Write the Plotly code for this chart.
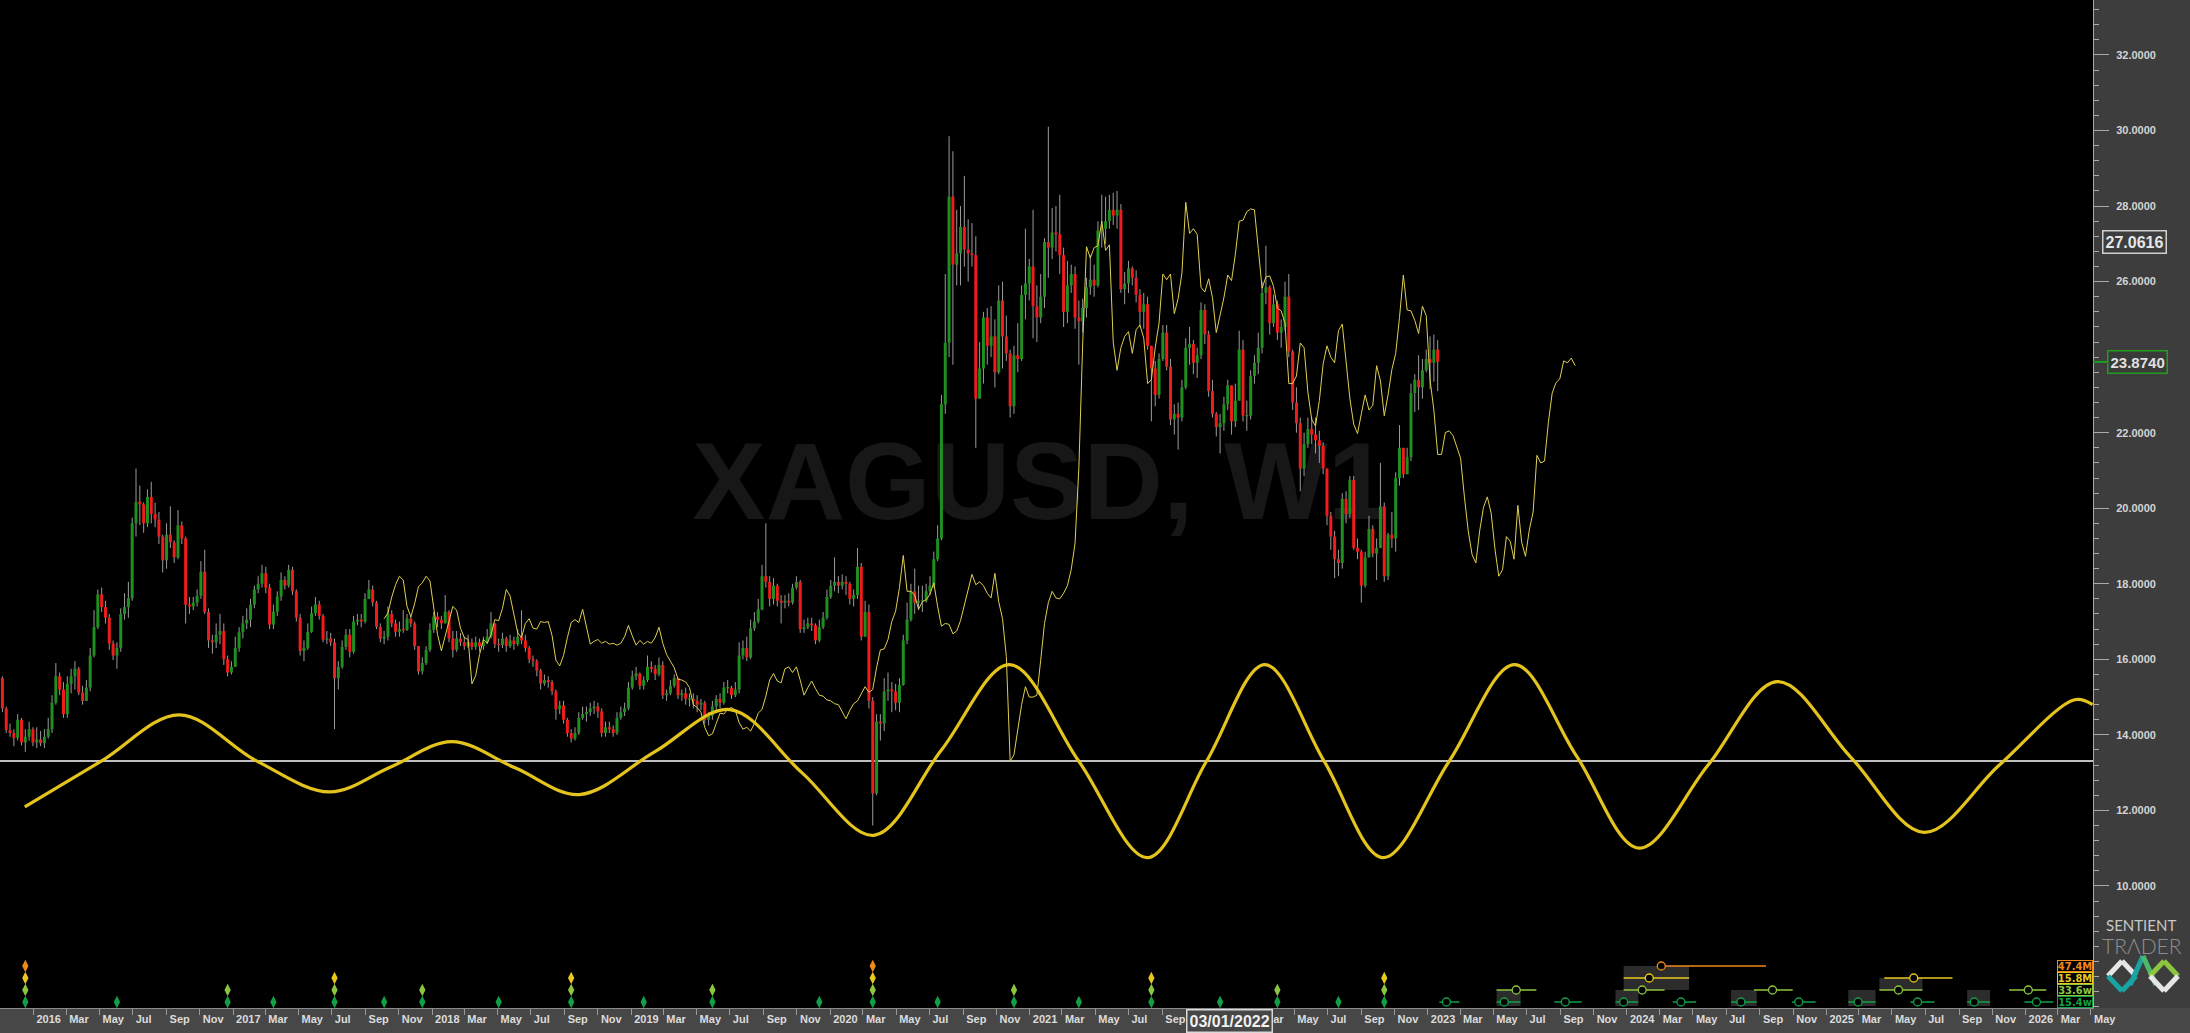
import plotly.graph_objects as go
import pandas as pd

# ======================= DATA =======================
# Weekly XAGUSD candles (one bar per week, first bar in the week of 2 Nov 2015)
FIRST_WEEK = "2015-11-05"
first_open = 15.50
closes = [
    14.70, 14.13, 14.05, 13.92, 14.40, 13.80, 13.95, 14.15, 13.80, 13.88,
    13.78, 13.95, 14.15, 14.85, 15.55, 15.20, 14.55, 15.35, 15.55, 15.75,
    15.12, 14.90, 15.25, 16.10, 16.85, 17.72, 17.38, 17.10, 16.42, 16.10,
    16.30, 17.20, 17.38, 17.62, 19.60, 20.17, 20.10, 19.60, 20.30, 19.85,
    19.70, 19.25, 18.62, 19.30, 19.10, 18.70, 19.55, 19.20, 17.45, 17.40,
    17.50, 17.68, 18.32, 17.25, 16.50, 16.45, 16.65, 16.75, 16.00, 15.65,
    15.80, 16.30, 16.72, 16.95, 17.05, 17.45, 17.85, 18.00, 18.28, 17.90,
    16.92, 17.26, 17.66, 18.10, 17.95, 18.37, 17.80, 17.10, 16.22, 16.30,
    16.73, 17.22, 17.45, 17.15, 16.52, 16.55, 16.45, 15.50, 15.80, 16.33,
    16.65, 16.20, 17.00, 17.05, 17.00, 17.60, 17.85, 17.50, 16.86, 16.55,
    16.60, 17.20, 16.95, 16.73, 16.80, 16.78, 17.08, 16.95, 16.35, 15.68,
    15.90, 16.25, 16.78, 17.13, 17.05, 16.95, 17.26, 16.55, 16.25, 16.55,
    16.45, 16.35, 16.45, 16.33, 16.45, 16.35, 16.45, 16.60, 16.95, 16.40,
    16.38, 16.55, 16.35, 16.50, 16.40, 16.60, 16.50, 16.30, 16.00, 15.95,
    15.70, 15.36, 15.45, 15.40, 15.15, 14.68, 14.78, 14.40, 14.05, 13.90,
    14.05, 14.45, 14.55, 14.60, 14.70, 14.75, 14.62, 14.05, 14.20, 14.15,
    14.05, 14.45, 14.60, 14.70, 15.25, 15.55, 15.62, 15.30, 15.45, 15.80,
    15.75, 15.60, 15.85, 15.05, 15.10, 15.30, 15.50, 15.05, 15.10, 14.95,
    14.95, 14.90, 14.80, 14.85, 14.40, 14.50, 14.75, 14.95, 14.85, 15.25,
    15.25, 15.05, 15.20, 16.10, 16.30, 16.05, 16.82, 17.00, 17.32, 18.20,
    18.05, 17.60, 17.95, 17.55, 17.50, 17.55, 17.50, 17.90, 18.05, 16.80,
    16.85, 16.95, 16.90, 16.50, 16.85, 17.10, 17.65, 17.95, 18.05, 17.95,
    18.05, 18.00, 17.60, 17.70, 18.45, 16.60, 17.25, 14.90, 12.45, 14.35,
    14.30, 15.15, 15.20, 15.15, 14.85, 15.32, 16.50, 17.05, 17.80, 17.50,
    17.55, 17.55, 17.80, 17.95, 18.65, 19.20, 22.75, 24.38, 28.25, 26.45,
    26.75, 27.45, 26.85, 26.75, 26.70, 22.90, 23.70, 25.05, 24.30, 24.55,
    23.60, 25.50, 24.55, 24.10, 22.70, 24.05, 23.95, 25.65, 25.95, 26.40,
    25.35, 25.05, 25.60, 27.05, 26.90, 27.30, 27.25, 26.70, 25.20, 25.90,
    26.20, 25.05, 24.95, 25.30, 25.85, 26.05, 25.90, 27.35, 27.40, 27.60,
    27.90, 27.75, 27.90, 25.80, 25.95, 26.35, 26.10, 25.65, 25.20, 25.40,
    24.30, 23.70, 23.00, 23.95, 24.65, 23.75, 22.35, 22.50, 22.40, 23.20,
    24.25, 24.35, 23.85, 24.05, 25.25, 24.60, 23.10, 22.50, 22.15, 22.25,
    22.75, 23.25, 22.30, 22.85, 24.20, 22.45, 22.45, 23.50, 23.85, 24.25,
    25.70, 25.85, 24.90, 25.40, 24.65, 24.80, 25.60, 24.15, 22.80, 22.25,
    21.05, 21.70, 22.10, 21.95, 21.80, 21.65, 21.05, 19.80, 19.25, 18.65,
    18.55, 20.25, 19.85, 20.75, 18.95, 18.85, 17.95, 18.70, 19.45, 18.80,
    18.95, 20.05, 18.20, 19.30, 19.20, 20.80, 21.60, 20.90, 21.35, 23.05,
    23.40, 23.20, 23.65, 23.95, 23.85, 24.20, 23.88,
]
highs = [
    15.55, 14.75, 14.30, 14.15, 14.55, 14.45, 14.15, 14.35, 14.20, 14.20,
    14.10, 14.15, 14.45, 15.05, 15.90, 15.65, 15.40, 15.55, 15.75, 15.95,
    15.80, 15.30, 15.45, 16.30, 17.30, 17.85, 17.90, 17.55, 17.20, 16.50,
    16.45, 17.35, 17.75, 18.05, 19.75, 21.05, 20.60, 20.15, 20.50, 20.70,
    20.15, 19.90, 19.30, 19.60, 20.05, 19.15, 19.95, 19.65, 19.25, 17.65,
    17.65, 17.85, 18.60, 18.90, 17.35, 16.65, 16.95, 17.20, 16.95, 16.10,
    15.95, 16.60, 16.85, 17.15, 17.35, 17.60, 17.95, 18.20, 18.50, 18.45,
    18.00, 17.45, 17.80, 18.30, 18.20, 18.50, 18.45, 17.85, 17.20, 16.50,
    16.95, 17.40, 17.65, 17.55, 17.20, 16.75, 16.70, 16.55, 15.95, 16.50,
    16.80, 16.80, 17.15, 17.20, 17.20, 17.75, 18.10, 17.95, 17.55, 16.95,
    16.75, 17.40, 17.30, 17.05, 17.00, 17.30, 17.20, 17.15, 17.00, 16.35,
    16.05, 16.35, 16.95, 17.25, 17.25, 17.15, 17.70, 17.30, 16.75, 16.75,
    16.70, 16.60, 16.65, 16.55, 16.60, 16.55, 16.60, 16.80, 17.25, 16.95,
    16.55, 16.70, 16.60, 16.65, 16.60, 16.80, 17.30, 16.65, 16.35, 16.10,
    16.00, 15.75, 15.60, 15.55, 15.45, 15.20, 14.90, 14.90, 14.45, 14.15,
    14.20, 14.60, 14.75, 14.75, 14.85, 14.90, 14.85, 14.70, 14.35, 14.35,
    14.25, 14.60, 14.75, 14.85, 15.40, 15.70, 15.80, 15.65, 15.55, 16.10,
    15.95, 15.85, 16.05, 15.95, 15.20, 15.45, 15.60, 15.50, 15.20, 15.25,
    15.10, 15.10, 15.05, 14.95, 14.90, 14.60, 14.90, 15.05, 15.10, 15.40,
    15.45, 15.30, 15.40, 16.45, 16.50, 16.60, 17.05, 17.25, 17.60, 18.50,
    19.60, 18.20, 18.15, 18.00, 17.70, 17.70, 17.75, 18.00, 18.20, 18.10,
    17.05, 17.10, 17.10, 16.95, 17.05, 17.25, 17.85, 18.10, 18.70, 18.20,
    18.25, 18.20, 18.05, 17.85, 18.95, 18.55, 17.55, 17.45, 15.00, 14.55,
    14.55, 15.50, 15.65, 15.40, 15.35, 15.50, 16.65, 17.50, 18.00, 18.40,
    17.95, 17.95, 18.00, 18.20, 18.85, 19.55, 23.00, 26.20, 29.85, 29.45,
    27.90, 28.00, 28.80, 27.65, 27.55, 27.20, 24.40, 25.20, 25.30, 25.35,
    25.00, 25.90, 26.00, 25.10, 24.20, 24.30, 24.90, 25.90, 27.40, 26.60,
    27.90, 25.90, 26.20, 27.15, 30.10, 27.95, 28.00, 28.30, 26.90, 26.55,
    26.45, 26.40, 25.50, 25.55, 26.10, 26.70, 26.45, 27.60, 28.30, 28.25,
    28.30, 28.35, 28.40, 28.05, 26.25, 26.55, 26.40, 26.30, 25.80, 25.70,
    25.60, 24.30, 23.90, 24.10, 24.85, 24.85, 23.95, 22.75, 22.80, 23.40,
    24.50, 24.80, 24.45, 24.25, 25.45, 25.40, 24.70, 23.40, 22.55, 22.50,
    22.95, 23.40, 23.10, 23.30, 24.70, 24.45, 22.85, 23.65, 24.05, 24.65,
    26.00, 26.95, 25.90, 25.65, 25.50, 25.00, 26.00, 26.20, 24.20, 23.20,
    22.40, 22.00, 22.40, 22.40, 22.40, 22.05, 21.75, 21.00, 19.90, 19.40,
    18.90, 20.40, 20.45, 20.85, 20.85, 19.20, 18.90, 18.85, 19.80, 19.55,
    19.20, 21.20, 20.15, 19.35, 19.90, 20.95, 22.20, 21.60, 21.60, 23.30,
    23.55, 24.05, 23.95, 24.20, 24.55, 24.60, 24.45,
]
lows = [
    14.60, 14.05, 13.95, 13.70, 13.85, 13.72, 13.55, 13.85, 13.70, 13.65,
    13.70, 13.65, 13.90, 14.05, 14.80, 15.05, 14.45, 14.45, 15.10, 15.20,
    15.05, 14.80, 14.90, 15.15, 16.05, 16.80, 17.25, 16.95, 16.25, 15.98,
    15.75, 16.20, 17.05, 17.10, 17.55, 19.25, 19.55, 19.35, 19.50, 19.60,
    19.50, 19.05, 18.30, 18.40, 18.95, 18.55, 18.65, 19.05, 16.95, 17.20,
    17.30, 17.40, 17.60, 17.20, 16.30, 16.15, 16.30, 16.40, 15.85, 15.55,
    15.60, 15.85, 16.20, 16.55, 16.80, 16.85, 17.35, 17.75, 17.90, 17.75,
    16.80, 16.80, 17.15, 17.55, 17.85, 17.90, 17.70, 17.00, 16.10, 15.95,
    16.25, 16.70, 17.15, 17.05, 16.45, 16.40, 16.35, 14.15, 15.20, 15.75,
    16.25, 16.05, 16.15, 16.90, 16.85, 16.95, 17.60, 17.40, 16.80, 16.45,
    16.40, 16.50, 16.85, 16.60, 16.60, 16.70, 16.75, 16.85, 16.25, 15.60,
    15.60, 15.85, 16.20, 16.70, 16.85, 16.80, 16.95, 16.45, 16.05, 16.20,
    16.35, 16.25, 16.30, 16.25, 16.25, 16.20, 16.25, 16.40, 16.55, 16.30,
    16.20, 16.30, 16.20, 16.30, 16.25, 16.35, 16.40, 16.20, 15.90, 15.80,
    15.55, 15.20, 15.30, 15.25, 15.05, 14.40, 14.55, 14.30, 13.95, 13.80,
    13.85, 14.00, 14.40, 14.35, 14.50, 14.55, 14.45, 13.95, 13.95, 14.05,
    13.95, 14.00, 14.40, 14.50, 14.65, 15.20, 15.45, 15.20, 15.20, 15.40,
    15.65, 15.45, 15.55, 14.95, 14.90, 15.05, 15.25, 14.95, 14.90, 14.80,
    14.75, 14.70, 14.60, 14.65, 14.30, 14.25, 14.40, 14.60, 14.70, 14.80,
    15.10, 14.95, 15.00, 15.10, 16.00, 15.95, 16.00, 16.75, 16.95, 17.30,
    17.90, 17.40, 17.45, 17.40, 16.95, 17.35, 17.40, 17.45, 17.85, 16.70,
    16.70, 16.80, 16.75, 16.40, 16.45, 16.80, 17.05, 17.60, 17.80, 17.75,
    17.85, 17.70, 17.45, 17.40, 17.60, 16.50, 16.60, 14.70, 11.60, 12.40,
    13.85, 14.10, 14.90, 14.60, 14.65, 14.60, 15.30, 16.40, 17.00, 17.20,
    17.30, 17.25, 17.50, 17.70, 17.90, 18.60, 19.15, 22.50, 24.00, 23.80,
    25.90, 25.90, 26.40, 26.00, 26.40, 21.60, 22.90, 23.30, 23.80, 24.00,
    23.20, 23.55, 23.70, 23.90, 22.40, 22.50, 23.60, 23.90, 25.00, 25.50,
    24.50, 24.40, 24.90, 25.30, 26.10, 26.60, 26.80, 26.20, 24.80, 24.90,
    25.70, 24.75, 23.80, 24.65, 25.05, 25.65, 25.60, 25.85, 26.90, 27.00,
    27.40, 27.50, 27.40, 25.70, 25.40, 25.70, 25.90, 25.45, 24.80, 24.75,
    24.20, 22.30, 22.70, 22.90, 23.90, 23.65, 22.20, 21.95, 21.55, 22.30,
    23.15, 23.80, 23.55, 23.45, 23.95, 24.35, 22.95, 22.40, 21.90, 21.45,
    22.05, 22.60, 21.95, 22.15, 22.85, 22.30, 22.05, 22.35, 23.30, 23.55,
    24.10, 25.40, 24.60, 24.80, 24.45, 24.25, 24.70, 24.00, 22.60, 22.00,
    20.45, 20.85, 21.60, 21.70, 21.45, 21.20, 20.90, 19.55, 18.90, 18.15,
    18.20, 18.40, 19.60, 19.75, 18.90, 18.65, 17.50, 17.90, 18.75, 18.70,
    18.10, 19.20, 18.05, 18.10, 18.95, 18.85, 20.60, 20.80, 20.90, 21.25,
    22.55, 22.60, 22.90, 23.60, 23.15, 23.35, 23.10,
]

# FLD: median price displaced forward by 36 weeks, drawn from bar 64 onwards
FLD_SHIFT_WEEKS = 36
FLD_FIRST_BAR = 64

# Composite cycle model (thick yellow wave): read points (peaks, crossings, troughs)
composite_dates = [
    "2015-12-16", "2016-05-05", "2016-09-24", "2017-02-13", "2017-06-27", "2017-10-17",
    "2018-02-06", "2018-06-03", "2018-09-28", "2019-02-13", "2019-07-01", "2019-11-10",
    "2020-03-21", "2020-07-23", "2020-11-25", "2021-04-01", "2021-08-05", "2021-11-21",
    "2022-03-08", "2022-06-25", "2022-10-11", "2023-02-09", "2023-06-09", "2023-10-01",
    "2024-01-23", "2024-05-29", "2024-10-03", "2025-02-15", "2025-06-29", "2025-11-14",
    "2026-04-01", "2026-05-04",
]
composite_values = [
    12.09, 13.31, 14.53, 13.31, 12.49, 13.15,
    13.82, 13.12, 12.42, 13.55, 14.67, 13.00,
    11.34, 13.60, 15.86, 13.30, 10.75, 13.30,
    15.86, 13.30, 10.75, 13.30, 15.86, 13.43,
    11.00, 13.20, 15.41, 13.40, 11.42, 13.20,
    14.93, 14.80,
]
reference_level = 13.31

# Cycle troughs found (bar index of each trough), per cycle
cycle_names = ["47.4M", "15.8M", "33.6w", "15.4w"]
troughs = {
    "47.4M": [6, 228],
    "15.8M": [6, 87, 149, 228, 301, 362],
    "33.6w": [6, 59, 87, 110, 149, 186, 228, 265, 301, 334, 362],
    "15.4w": [6, 30, 59, 71, 87, 100, 110, 130, 149, 168, 186, 214, 228, 245,
              265, 282, 301, 319, 334, 350, 362],
}
# Projected troughs: (expected date, window start, window end)
projections = {
    "47.4M": [("2024-03-04", "2024-03-04", "2024-09-12")],
    "15.8M": [("2024-02-11", "2023-12-26", "2024-04-24"),
              ("2025-06-10", "2025-04-17", "2025-08-20")],
    "33.6w": [("2023-06-12", "2023-05-07", "2023-07-19"),
              ("2024-01-29", "2023-12-26", "2024-03-10"),
              ("2024-09-24", "2024-08-21", "2024-10-31"),
              ("2025-05-13", "2025-04-08", "2025-06-26"),
              ("2026-01-06", "2025-12-02", "2026-02-08")],
    "15.4w": [("2023-02-04", "2023-01-22", "2023-02-28"),
              ("2023-05-21", "2023-05-07", "2023-06-20"),
              ("2023-09-10", "2023-08-21", "2023-10-10"),
              ("2023-12-26", "2023-12-11", "2024-01-22"),
              ("2024-04-09", "2024-03-25", "2024-05-07"),
              ("2024-07-28", "2024-07-10", "2024-08-26"),
              ("2024-11-11", "2024-10-30", "2024-12-12"),
              ("2025-02-28", "2025-02-10", "2025-04-01"),
              ("2025-06-17", "2025-06-04", "2025-07-18"),
              ("2025-09-29", "2025-09-16", "2025-10-28"),
              ("2026-01-21", "2025-12-30", "2026-02-21")],
}
# grey time-window boxes: (start, end, top row cycle, bottom row cycle)
windows = [
    ("2023-05-07", "2023-06-20", "33.6w", None),
    ("2023-12-11", "2024-01-22", "33.6w", None),
    ("2023-12-26", "2024-04-24", "47.4M", "33.6w"),
    ("2024-07-10", "2024-08-26", "33.6w", None),
    ("2025-02-10", "2025-04-01", "33.6w", None),
    ("2025-04-08", "2025-06-26", "15.8M", "33.6w"),
    ("2025-09-16", "2025-10-28", "33.6w", None),
]

last_price = 23.8740
cursor_price = 27.0616
cursor_date = "2022-01-03"
cursor_label = "03/01/2022"
watermark = "XAGUSD, W1"

# the 24.0000 label is hidden behind the last-price box in the reference
y_tick_values = [10, 12, 14, 16, 18, 20, 22, 26, 28, 30, 32]
# month labels hidden behind the cursor-date box in the reference
hidden_x_labels = ["2021-11-01", "2022-01-01"]

# ======================= GEOMETRY / STYLE =======================
W, H = 2190, 1033
PLOT_W, PLOT_H = 2093, 1008
Y_TOP, Y_BOTTOM = 33.456, 6.768
X_RANGE = ["2015-10-31 14:00", "2026-05-04 17:00"]

def yv(py):
    return Y_TOP - (Y_TOP - Y_BOTTOM) * py / PLOT_H

def pxx(x):
    return x / PLOT_W

def pxy(y):
    return 1 - y / PLOT_H

ROW_PX = {"47.4M": 966, "15.8M": 978, "33.6w": 990, "15.4w": 1002}
COL = {"47.4M": "#f0881c", "15.8M": "#e8c81e", "33.6w": "#8cc63e", "15.4w": "#12a046"}
GREEN, RED, WICK = "#1f8f1f", "#f01c1c", "#9a9a9a"
FLD_COL, COMP_COL = "#e0cf50", "#e4c41c"

n = len(closes)
assert len(highs) == n and len(lows) == n
dates = pd.date_range(FIRST_WEEK, periods=n + FLD_SHIFT_WEEKS, freq="7D")
ds = [d.strftime("%Y-%m-%d %H:%M") for d in dates]
opens = [first_open] + closes[:-1]
hi = [max(h, o, c) for h, o, c in zip(highs, opens, closes)]
lo = [min(l, o, c) for l, o, c in zip(lows, opens, closes)]

fig = go.Figure()

# watermark (drawn first so candles sit on top)
fig.add_trace(go.Scatter(
    x=["2021-01-21"], y=[20.45], mode="text", text=[watermark],
    textfont=dict(size=110, color="#171717", family="Liberation Sans, Arial", weight="bold"),
    textposition="middle center", hoverinfo="skip", showlegend=False))

# wicks
wx, wy = [], []
for d, h, l in zip(ds[:n], hi, lo):
    wx += [d, d, None]
    wy += [l, h, None]
fig.add_trace(go.Scatter(x=wx, y=wy, mode="lines", line=dict(color=WICK, width=1),
                         hoverinfo="skip", showlegend=False))

# bodies
MIN_BODY = 0.035
gx, gy, rx, ry = [], [], [], []
for d, o, c in zip(ds[:n], opens, closes):
    a, b = min(o, c), max(o, c)
    if b - a < MIN_BODY:
        m = (a + b) / 2
        a, b = m - MIN_BODY / 2, m + MIN_BODY / 2
    if c >= o:
        gx += [d, d, None]; gy += [a, b, None]
    else:
        rx += [d, d, None]; ry += [a, b, None]
fig.add_trace(go.Scatter(x=gx, y=gy, mode="lines", line=dict(color=GREEN, width=3),
                         hoverinfo="skip", showlegend=False))
fig.add_trace(go.Scatter(x=rx, y=ry, mode="lines", line=dict(color=RED, width=3),
                         hoverinfo="skip", showlegend=False))

# FLD
fld_x = ds[FLD_FIRST_BAR + FLD_SHIFT_WEEKS: n + FLD_SHIFT_WEEKS]
fld_y = [(hi[i] + lo[i]) / 2 for i in range(FLD_FIRST_BAR, n)]
fig.add_trace(go.Scatter(x=fld_x, y=fld_y, mode="lines", line=dict(color=FLD_COL, width=1),
                         hoverinfo="skip", showlegend=False))

# composite wave
fig.add_trace(go.Scatter(x=composite_dates, y=composite_values, mode="lines",
                         line=dict(color=COMP_COL, width=3.2, shape="spline", smoothing=1.0),
                         hoverinfo="skip", showlegend=False))

# trough diamonds
for name in cycle_names:
    idx = troughs[name]
    fig.add_trace(go.Scatter(
        x=[ds[i] for i in idx], y=[yv(ROW_PX[name])] * len(idx), mode="markers",
        marker=dict(symbol="diamond-tall", size=9, color=COL[name], line=dict(width=0)),
        hoverinfo="skip", showlegend=False))

# projected troughs: window lines + circles
for name in cycle_names:
    lx, ly = [], []
    for centre, s, e in projections[name]:
        lx += [s, e, None]
        ly += [yv(ROW_PX[name])] * 2 + [None]
    fig.add_trace(go.Scatter(x=lx, y=ly, mode="lines", line=dict(color=COL[name], width=1.5),
                             hoverinfo="skip", showlegend=False))
    fig.add_trace(go.Scatter(
        x=[p[0] for p in projections[name]], y=[yv(ROW_PX[name])] * len(projections[name]),
        mode="markers",
        marker=dict(symbol="circle", size=8, color="#000000", line=dict(color=COL[name], width=1.3)),
        hoverinfo="skip", showlegend=False))

shapes = []
# grey time windows
for s, e, top, bottom in windows:
    y0 = yv(ROW_PX[top])
    y1 = yv(ROW_PX[bottom]) if bottom else yv(1006)
    shapes.append(dict(type="rect", xref="x", yref="y", x0=s, x1=e, y0=y1, y1=y0,
                       fillcolor="#2c2c2c", line=dict(width=0), layer="below"))
# white reference line
shapes.append(dict(type="line", xref="paper", yref="y", x0=0, x1=1,
                   y0=reference_level, y1=reference_level,
                   line=dict(color="#ffffff", width=1.5), layer="below"))
# bottom axis band
shapes.append(dict(type="rect", xref="paper", yref="paper", x0=0, x1=W / PLOT_W,
                   y0=pxy(H), y1=0, fillcolor="#474747", line=dict(width=0), layer="below"))
# green price tick
shapes.append(dict(type="line", xref="paper", yref="y", x0=1.0, x1=pxx(2110),
                   y0=last_price, y1=last_price, line=dict(color="#1e9e1e", width=2)))

# logo (Sentient Trader mark)
def seg(x0, y0, x1, y1, c, w=5):
    shapes.append(dict(type="line", xref="paper", yref="paper",
                       x0=pxx(x0), y0=pxy(y0), x1=pxx(x1), y1=pxy(y1),
                       line=dict(color=c, width=w)))
WHITE_L, TEAL, LGREEN = "#e6e6e6", "#1aa3a3", "#8cc63e"
seg(2108, 976, 2122, 961, WHITE_L)
seg(2122, 961, 2136, 976, WHITE_L)
seg(2108, 976, 2122, 991, TEAL)
seg(2122, 991, 2136, 976, TEAL)
seg(2130, 985, 2143, 956, TEAL)
seg(2143, 956, 2156, 985, "#4cb86a")
seg(2150, 976, 2164, 961, LGREEN)
seg(2164, 961, 2178, 976, LGREEN)
seg(2178, 976, 2164, 991, WHITE_L)
seg(2164, 991, 2150, 976, WHITE_L)

annotations = []
# cycle length labels
for name in cycle_names:
    annotations.append(dict(
        xref="paper", yref="y", x=pxx(2075), y=yv(ROW_PX[name]), xanchor="center", yanchor="middle",
        text=name, showarrow=False,
        font=dict(size=11, color=COL[name], family="Liberation Sans Narrow, DejaVu Sans Condensed, Arial",
                  weight="bold"),
        bgcolor="#000000", bordercolor=COL[name], borderwidth=1, borderpad=0, width=34, height=10))
# price labels on the axis
annotations.append(dict(
    xref="paper", yref="y", x=pxx(2134.5), y=cursor_price, xanchor="center", yanchor="middle",
    text=f"{cursor_price:.4f}", showarrow=False,
    font=dict(size=16, color="#e6e6e6", family="Liberation Sans, Arial", weight="bold"),
    bgcolor="#3d3d3d", bordercolor="#d0d0d0", borderwidth=1.5, borderpad=2))
annotations.append(dict(
    xref="paper", yref="y", x=pxx(2137.5), y=last_price, xanchor="center", yanchor="middle",
    text=f"{last_price:.4f}", showarrow=False,
    font=dict(size=15, color="#e0e0e0", family="Liberation Sans, Arial", weight="bold"),
    bgcolor="#3a3a3a", bordercolor="#1e9e1e", borderwidth=1.5, borderpad=2))
# cursor date
annotations.append(dict(
    xref="x", yref="paper", x=cursor_date, y=pxy(1020.5), xanchor="center", yanchor="middle",
    text=cursor_label, showarrow=False,
    font=dict(size=16, color="#f0f0f0", family="Liberation Sans, Arial", weight="bold"),
    bgcolor="#474747", bordercolor="#d8d8d8", borderwidth=1.5, borderpad=2))
# brand text
annotations.append(dict(
    xref="paper", yref="paper", x=pxx(2141), y=pxy(925), xanchor="center", yanchor="middle",
    text="SENTIENT", showarrow=False,
    font=dict(size=15, color="#c8c8c8", family="Lato, Roboto, Arial")))
annotations.append(dict(
    xref="paper", yref="paper", x=pxx(2142), y=pxy(945), xanchor="center", yanchor="middle",
    text="TRΛDER", showarrow=False,
    font=dict(size=21, color="#8e8e8e", family="Lato, Roboto, Arial", weight=300)))

tick_dates = pd.date_range("2016-01-01", "2026-05-01", freq="2MS")
tick_text = ["" if d.strftime("%Y-%m-%d") in hidden_x_labels
             else (str(d.year) if d.month == 1 else d.strftime("%b")) for d in tick_dates]
minor_y = [round(0.4 * k, 1) for k in range(17, 84)]

fig.update_layout(
    width=W, height=H, autosize=False,
    margin=dict(l=0, r=W - PLOT_W, t=0, b=H - PLOT_H, pad=0),
    paper_bgcolor="#3d3d3d", plot_bgcolor="#000000",
    showlegend=False, hovermode=False,
    shapes=shapes, annotations=annotations,
    xaxis=dict(
        type="date", range=X_RANGE, showgrid=False, zeroline=False,
        showline=True, linecolor="#8a8a8a", linewidth=1,
        tickmode="array", tickvals=[d.strftime("%Y-%m-%d") for d in tick_dates], ticktext=tick_text,
        ticks="outside", ticklen=6, tickcolor="#9a9a9a", tickwidth=1,
        ticklabelposition="outside right", ticklabelshift=2, ticklabelstandoff=1,
        tickfont=dict(size=11, color="#dcdcdc", family="Liberation Sans, Arial", weight="bold"),
        fixedrange=True,
    ),
    yaxis=dict(
        side="right", range=[Y_BOTTOM, Y_TOP], showgrid=False, zeroline=False,
        showline=True, linecolor="#a8a8a8", linewidth=1,
        tickmode="array", tickvals=y_tick_values, ticktext=[f"{v:.4f}" for v in y_tick_values],
        ticks="outside", ticklen=15, tickcolor="#a8a8a8", tickwidth=1, ticklabelstandoff=5,
        tickfont=dict(size=11, color="#d4d4d4", family="Liberation Sans, Arial", weight="bold"),
        minor=dict(tickmode="array", tickvals=minor_y, ticks="outside", ticklen=5,
                   tickcolor="#a8a8a8", showgrid=False),
        fixedrange=True,
    ),
)

fig.write_html("out.html", config={"displayModeBar": False, "staticPlot": True},
               post_script="document.body.style.margin='0';document.body.style.overflow='hidden';")
